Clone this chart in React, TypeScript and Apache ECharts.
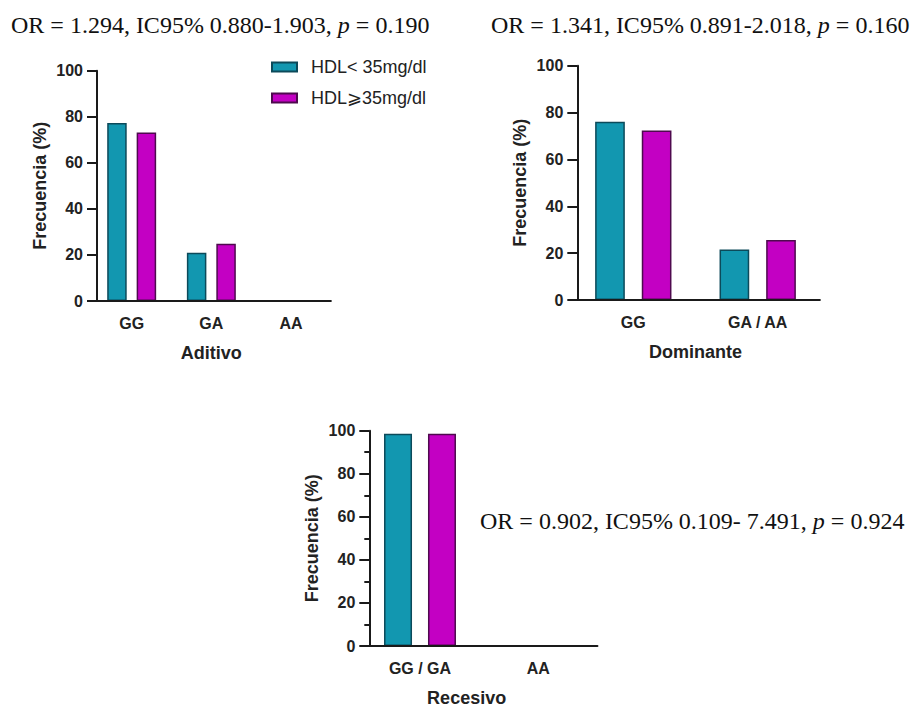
import React, { useEffect, useRef } from 'react';
import * as echarts from 'echarts';

const seriesNames = ['HDL< 35mg/dl', 'HDL\u2A7E35mg/dl'];

const aditivoCategories = ['GG', 'GA', 'AA'];
const aditivoLow = [77.3, 21.0, 0];
const aditivoHigh = [73.2, 24.9, 0];

const dominanteCategories = ['GG', 'GA / AA'];
const dominanteLow = [76.1, 21.6];
const dominanteHigh = [72.3, 25.6];

const recesivoCategories = ['GG / GA', 'AA'];
const recesivoLow = [98.6, 0];
const recesivoHigh = [98.6, 0];

const axisNames = ['Aditivo', 'Dominante', 'Recesivo'];
const yAxisName = 'Frecuencia (%)';
const yMin = 0;
const yMax = 100;
const yInterval = 20;

const statTexts = [
  ['OR = 1.294, IC95% 0.880-1.903, ', 'p', ' = 0.190'],
  ['OR = 1.341, IC95% 0.891-2.018, ', 'p', ' = 0.160'],
  ['OR = 0.902, IC95% 0.109- 7.491, ', 'p', ' = 0.924'],
];

const TEAL = '#1297b0';
const TEAL_B = '#0c4a5a';
const MAG = '#c300c3';
const MAG_B = '#4e0a4e';
const AXIS = '#1a1a1a';
const SANS = '"Liberation Sans", Arial, Helvetica, sans-serif';
const SERIF = '"Liberation Serif", "Times New Roman", serif';

const grids = [
  { left: 91.85, top: 70.7, width: 239, height: 230.3, yOff: -5.15, barWidth: 19.5, barGap: '51%', minor: false, namePad: [0, 0, 0, 0] },
  { left: 571.1, top: 65.7, width: 248.8, height: 234.3, yOff: -6.2, barWidth: 29.7, barGap: '57%', minor: false, namePad: [0, 0, 0, 0] },
  { left: 360.85, top: 430.7, width: 236.6, height: 220, yOff: -8.45, barWidth: 28, barGap: '57%', minor: true, namePad: [0, 25, 0, 0] },
];

const cats = [aditivoCategories, dominanteCategories, recesivoCategories];
const lows = [aditivoLow, dominanteLow, recesivoLow];
const highs = [aditivoHigh, dominanteHigh, recesivoHigh];

function statGraphic(parts: string[], x: number, y: number) {
  return {
    type: 'text',
    x,
    y,
    style: {
      text: `{n|${parts[0]}}{i|${parts[1]}}{n|${parts[2]}}`,
      verticalAlign: 'middle',
      rich: {
        n: { fontFamily: SERIF, fontSize: 24, fill: '#111' },
        i: { fontFamily: SERIF, fontSize: 24, fontStyle: 'italic', fill: '#111' },
      },
    },
  };
}

export default function App() {
  const ref = useRef<HTMLDivElement>(null);
  useEffect(() => {
    if (!ref.current) return;
    const chart = echarts.init(ref.current, null, { renderer: 'svg' });
    const option: any = {
      animation: false,
      backgroundColor: '#fff',
      legend: {
        orient: 'vertical',
        left: 266,
        top: 52,
        itemWidth: 25,
        itemHeight: 9,
        itemGap: 11,
        data: seriesNames,
        icon: 'rect',
        textStyle: { fontFamily: SANS, fontSize: 18, color: '#222', lineHeight: 20, padding: [0, 0, 0, 9] },
      },
      grid: grids.map((g) => ({ left: g.left, top: g.top, width: g.width, height: g.height, containLabel: false })),
      xAxis: grids.map((g, i) => ({
        type: 'category',
        gridIndex: i,
        z: 10,
        data: cats[i],
        name: axisNames[i],
        nameLocation: 'middle',
        nameGap: 43,
        nameTextStyle: { fontFamily: SANS, fontSize: 18, fontWeight: 'bold', color: '#222', padding: g.namePad },
        axisLine: { lineStyle: { color: AXIS, width: 2 } },
        axisTick: { alignWithLabel: true, length: 9, lineStyle: { color: AXIS, width: 2 } },
        axisLabel: { margin: 14, fontFamily: SANS, fontSize: 16, fontWeight: 'bold', color: '#222', interval: 0 },
        splitLine: { show: false },
      })),
      yAxis: grids.map((g, i) => ({
        type: 'value',
        gridIndex: i,
        z: 10,
        min: yMin,
        max: yMax,
        interval: yInterval,
        offset: g.yOff,
        name: yAxisName,
        nameLocation: 'middle',
        nameGap: 48,
        nameTextStyle: { fontFamily: SANS, fontSize: 18, fontWeight: 'bold', color: '#222' },
        axisLine: { show: true, lineStyle: { color: AXIS, width: 2 } },
        axisTick: { show: true, length: 10, lineStyle: { color: AXIS, width: 2 } },
        minorTick: { show: g.minor, splitNumber: 2, length: 5, lineStyle: { color: AXIS, width: 2 } },
        axisLabel: { margin: 14, fontFamily: SANS, fontSize: 16, fontWeight: 'bold', color: '#222' },
        splitLine: { show: false },
      })),
      series: grids.flatMap((g, i) => [
        {
          type: 'bar',
          name: seriesNames[0],
          xAxisIndex: i,
          yAxisIndex: i,
          data: lows[i],
          barWidth: g.barWidth,
          barGap: g.barGap,
          itemStyle: { color: TEAL, borderColor: TEAL_B, borderWidth: 1.5 },
        },
        {
          type: 'bar',
          name: seriesNames[1],
          xAxisIndex: i,
          yAxisIndex: i,
          data: highs[i],
          barWidth: g.barWidth,
          barGap: g.barGap,
          itemStyle: { color: MAG, borderColor: MAG_B, borderWidth: 1.5 },
        },
      ]),
      graphic: [
        statGraphic(statTexts[0], 11, 25),
        statGraphic(statTexts[1], 491, 25),
        statGraphic(statTexts[2], 480, 521),
      ],
    };
    chart.setOption(option);
    return () => chart.dispose();
  }, []);
  return <div ref={ref} style={{ position: 'fixed', left: 0, top: 0, width: 914, height: 708, background: '#fff' }} />;
}
